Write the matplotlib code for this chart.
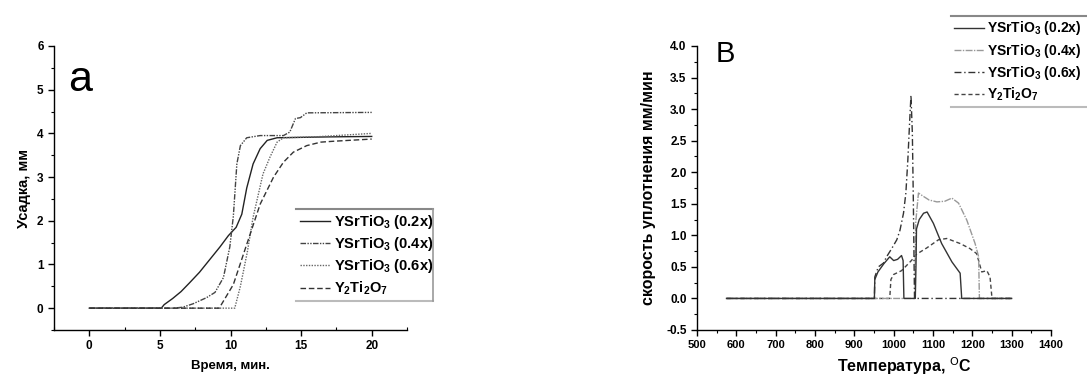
import matplotlib
matplotlib.use("Agg")
import matplotlib.pyplot as plt
from matplotlib.ticker import MultipleLocator, FormatStrFormatter
from matplotlib.lines import Line2D

plt.rcParams['font.family'] = ['Liberation Sans', 'DejaVu Sans']
plt.rcParams['mathtext.default'] = 'regular'

# ---------- data: panel a (shrinkage vs time) ----------
t_02 = [0, 5.1, 5.3, 5.9, 6.5, 7.1, 7.8, 8.5, 9.25, 9.85, 10.4, 10.8, 11.15, 11.6, 12.1, 12.6, 13.3, 17, 20]
s_02 = [0, 0, 0.08, 0.22, 0.38, 0.58, 0.82, 1.1, 1.4, 1.66, 1.85, 2.15, 2.75, 3.3, 3.65, 3.84, 3.9, 3.92, 3.93]

t_04 = [0, 5.9, 6.6, 7.35, 8.3, 8.9, 9.5, 9.95, 10.2, 10.45, 10.7, 11.15, 12.1, 13.75, 14.2, 14.6, 14.95, 15.4, 20]
s_04 = [0, 0, 0.02, 0.1, 0.24, 0.36, 0.7, 1.4, 2.1, 3.3, 3.72, 3.9, 3.95, 3.95, 4.03, 4.34, 4.36, 4.47, 4.48]

t_06 = [0, 10.3, 10.7, 11.2, 11.6, 12.3, 12.8, 13.3, 13.75, 16, 20]
s_06 = [0, 0, 0.5, 1.3, 2.08, 3.07, 3.46, 3.8, 3.9, 3.92, 4.0]

t_yt = [0, 9.2, 10.2, 11.15, 12.1, 13.05, 13.75, 14.45, 15.4, 16.4, 17.3, 20]
s_yt = [0, 0, 0.54, 1.46, 2.38, 3.0, 3.34, 3.57, 3.72, 3.8, 3.82, 3.87]

# ---------- data: panel B (densification rate vs temperature) ----------
T_02 = [575, 951, 952, 960, 975, 990, 1000, 1010, 1020, 1024, 1026, 1055, 1057, 1058, 1065, 1076, 1085, 1101, 1122, 1148, 1169, 1173, 1300]
r_02 = [0, 0, 0.3, 0.42, 0.55, 0.66, 0.6, 0.62, 0.68, 0.6, 0, 0, 0.6, 1.1, 1.25, 1.35, 1.37, 1.19, 0.87, 0.58, 0.40, 0, 0]

T_04 = [575, 1054, 1056, 1063, 1075, 1090, 1110, 1130, 1148, 1165, 1186, 1207, 1216, 1218, 1300]
r_04 = [0, 0, 1.2, 1.67, 1.62, 1.56, 1.53, 1.54, 1.59, 1.51, 1.24, 0.87, 0.66, 0, 0]

T_06 = [575, 951, 952, 961, 974, 982, 995, 1008, 1016, 1025, 1031, 1036, 1040, 1044, 1047.5, 1050, 1052, 1053, 1300]
r_06 = [0, 0, 0.34, 0.5, 0.56, 0.66, 0.79, 0.93, 1.08, 1.35, 1.67, 2.19, 2.72, 3.22, 2.62, 1.56, 0.5, 0, 0]

T_yt = [575, 990, 993, 1000, 1020, 1045, 1058, 1084, 1114, 1135, 1169, 1194, 1211, 1224, 1237, 1245, 1250, 1300]
r_yt = [0, 0, 0.3, 0.38, 0.44, 0.6, 0.7, 0.8, 0.93, 0.95, 0.87, 0.79, 0.71, 0.42, 0.44, 0.34, 0, 0]

labels = ["YSrTiO$_3$ (0.2x)", "YSrTiO$_3$ (0.4x)", "YSrTiO$_3$ (0.6x)", "Y$_2$Ti$_2$O$_7$"]

W, H = 1087, 376
fig = plt.figure(figsize=(W / 100, H / 100), dpi=100)

def px_axes(l, t, r, b):
    return fig.add_axes([l / W, 1 - b / H, (r - l) / W, (b - t) / H])

axa = px_axes(54, 46, 407, 330)
axb = px_axes(697, 46, 1051, 330)

dd = (0, (4, 1, 1, 1, 1, 1))
la = axa.plot(t_02, s_02, color='#222222', lw=1.0, ls='-', label=labels[0])
lb = axa.plot(t_04, s_04, color='#444444', lw=1.0, ls=dd, label=labels[1])
lc = axa.plot(t_06, s_06, color='#666666', lw=1.0, ls=(0, (1, 1)), label=labels[2])
ld = axa.plot(t_yt, s_yt, color='#333333', lw=1.0, ls=(0, (4, 2)), label=labels[3])

axb.plot(T_yt, r_yt, color='#444444', lw=1.0, ls=(0, (3, 2)), label=labels[3])
axb.plot(T_04, r_04, color='#999999', lw=1.0, ls=(0, (5, 1, 1, 1)), label=labels[1])
axb.plot(T_06, r_06, color='#333333', lw=1.0, ls=(0, (5, 2, 1, 2)), label=labels[2])
axb.plot(T_02, r_02, color='#333333', lw=1.0, ls='-', label=labels[0])

for ax in (axa, axb):
    for s in ('top', 'right'):
        ax.spines[s].set_visible(False)
    ax.spines['left'].set_linewidth(1.0)
    ax.spines['bottom'].set_linewidth(1.0)
    ax.tick_params(which='major', direction='out', length=4, width=1)
    ax.tick_params(which='minor', direction='out', length=2.5, width=0.8)
axa.tick_params(axis='x', which='minor', direction='in')

axa.set_xlim(-2.5, 22.5)
axa.set_ylim(-0.5, 6)
axa.xaxis.set_major_locator(MultipleLocator(5))
axa.xaxis.set_minor_locator(MultipleLocator(2.5))
axa.yaxis.set_major_locator(MultipleLocator(1))
axa.yaxis.set_minor_locator(MultipleLocator(0.5))
axa.tick_params(labelsize=8.5)
for lab in axa.get_xticklabels() + axa.get_yticklabels():
    lab.set_fontweight('bold')
axa.set_xlabel("Время, мин.", fontsize=9.5, fontweight='bold')
axa.set_ylabel("Усадка, мм", fontsize=10.5, fontweight='bold')
axa.xaxis.set_label_coords(0.5, -0.105)
axa.yaxis.set_label_coords(-0.065, 0.5)
axa.text(68, H - 91, "a", transform=None, fontsize=31, va='baseline', ha='left')

axb.set_xlim(500, 1400)
axb.set_ylim(-0.5, 4.0)
axb.xaxis.set_major_locator(MultipleLocator(100))
axb.xaxis.set_minor_locator(MultipleLocator(50))
axb.yaxis.set_major_locator(MultipleLocator(0.5))
axb.yaxis.set_minor_locator(MultipleLocator(0.25))
axb.yaxis.set_major_formatter(FormatStrFormatter('%.1f'))
axb.tick_params(axis='x', labelsize=8)
axb.tick_params(axis='y', labelsize=8.5)
for lab in axb.get_xticklabels() + axb.get_yticklabels():
    lab.set_fontweight('bold')
axb.set_xlabel("Температура, $^{\\mathrm{O}}$C", fontsize=11.5, fontweight='bold')
axb.set_ylabel("скорость уплотнения мм/мин", fontsize=11.5, fontweight='bold')
axb.xaxis.set_label_coords(0.585, -0.09)
axb.yaxis.set_label_coords(-0.115, 0.5)
axb.text(716, H - 62, "B", transform=None, fontsize=21, va='baseline', ha='left')

leg_kw = dict(frameon=False, handlelength=2.1, handletextpad=0.25,
              borderpad=0.25, borderaxespad=0, labelspacing=0.3)
lega = axa.legend(handles=[la[0], lb[0], lc[0], ld[0]], loc='upper left',
                  bbox_to_anchor=(296 / W, 1 - 209 / H), bbox_transform=fig.transFigure,
                  prop={'weight': 'bold', 'size': 10.5}, **leg_kw)
hb = {h.get_label(): h for h in axb.get_lines()}
legb = axb.legend(handles=[hb[labels[0]], hb[labels[1]], hb[labels[2]], hb[labels[3]]], loc='upper left',
                  bbox_to_anchor=(951 / W, 1 - 16 / H), bbox_transform=fig.transFigure,
                  prop={'weight': 'bold', 'size': 10}, **leg_kw)

fig.canvas.draw()
inv = fig.transFigure.inverted()
for leg, right_edge in ((lega, 433 / W), (legb, 1.0)):
    bb = leg.get_window_extent()
    (x0, y0), (x1, y1) = inv.transform([[bb.x0, bb.y0], [bb.x1, bb.y1]])
    fig.add_artist(Line2D([x0, right_edge], [y1, y1], transform=fig.transFigure, color='#888888', lw=1.5))
    fig.add_artist(Line2D([x0, right_edge], [y0, y0], transform=fig.transFigure, color='#bbbbbb', lw=1.5))
    if right_edge < 1.0:
        fig.add_artist(Line2D([right_edge, right_edge], [y0, y1], transform=fig.transFigure, color='#999999', lw=1.2))

fig.savefig("out.png", dpi=100)
